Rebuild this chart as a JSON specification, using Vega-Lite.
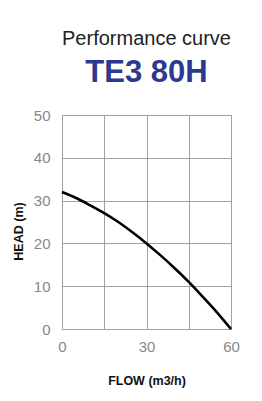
{
  "$schema": "https://vega.github.io/schema/vega-lite/v6.json",
  "width": 169,
  "height": 214,
  "padding": {"left": 12, "top": 29, "right": 5, "bottom": 5},
  "background": "white",
  "title": {
    "text": "Performance curve",
    "subtitle": "TE3 80H",
    "anchor": "middle",
    "frame": "group",
    "font": "Liberation Sans",
    "fontSize": 20,
    "fontWeight": "normal",
    "color": "#222222",
    "subtitleFont": "Liberation Sans",
    "subtitleFontSize": 31,
    "subtitleFontWeight": "bold",
    "subtitleColor": "#2b3990",
    "subtitlePadding": 9,
    "offset": 20
  },
  "data": {
    "values": [
      {"flow": 0, "head": 32.0},
      {"flow": 5, "head": 30.6},
      {"flow": 10, "head": 28.9},
      {"flow": 15, "head": 27.1},
      {"flow": 20, "head": 25.0},
      {"flow": 25, "head": 22.6},
      {"flow": 30, "head": 20.0},
      {"flow": 35, "head": 17.2},
      {"flow": 40, "head": 14.2},
      {"flow": 45, "head": 11.0},
      {"flow": 50, "head": 7.5},
      {"flow": 55, "head": 3.9},
      {"flow": 60, "head": 0.0}
    ]
  },
  "mark": {"type": "line", "color": "#000000", "strokeWidth": 2.6, "interpolate": "monotone"},
  "encoding": {
    "x": {
      "field": "flow",
      "type": "quantitative",
      "scale": {"domain": [0, 60], "nice": false},
      "axis": {
        "title": "FLOW (m3/h)",
        "values": [0, 15, 30, 45, 60],
        "labelExpr": "datum.value % 30 == 0 ? datum.label : ''",
        "grid": true,
        "gridColor": "#a89e9e",
        "gridOpacity": 1,
        "domain": false,
        "ticks": false,
        "labelPadding": 10,
        "labelFont": "Liberation Sans",
        "labelFontSize": 15,
        "labelColor": "#888888",
        "labelFlush": false,
        "titleFont": "Liberation Sans",
        "titleFontSize": 12.5,
        "titleFontWeight": "bold",
        "titleColor": "#111111",
        "titlePadding": 20
      }
    },
    "y": {
      "field": "head",
      "type": "quantitative",
      "scale": {"domain": [0, 50], "nice": false},
      "axis": {
        "title": "HEAD (m)",
        "values": [0, 10, 20, 30, 40, 50],
        "grid": true,
        "gridColor": "#a89e9e",
        "gridOpacity": 1,
        "domain": false,
        "ticks": false,
        "labelPadding": 12,
        "labelFont": "Liberation Sans",
        "labelFontSize": 15,
        "labelColor": "#888888",
        "labelFlush": false,
        "titleFont": "Liberation Sans",
        "titleFontSize": 12.5,
        "titleFontWeight": "bold",
        "titleColor": "#111111",
        "titlePadding": 8,
        "titleY": 116
      }
    }
  },
  "config": {
    "view": {"stroke": "#a89e9e", "strokeWidth": 1}
  }
}
